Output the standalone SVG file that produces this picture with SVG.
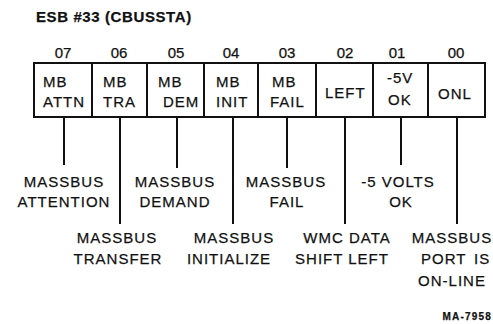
<svg xmlns="http://www.w3.org/2000/svg" width="493" height="324" viewBox="0 0 493 324">
<style>
text{font-family:"Liberation Sans",Arial,sans-serif;fill:#111;stroke:#111;stroke-width:0.25}
.t{font-size:15px;font-weight:bold;letter-spacing:0.6px}
.n{font-size:15px;text-anchor:middle}
.c{font-size:15px;letter-spacing:1px}
.l{font-size:15px;letter-spacing:1px;text-anchor:middle}
.id{font-size:10px;font-weight:bold;letter-spacing:1.2px;text-anchor:end}
.ln{stroke:#111;stroke-width:2;fill:none}
</style>
<rect width="493" height="324" fill="#fff"/>
<g id="title"><text class="t" x="36" y="21.5">ESB #33 (CBUSSTA)</text></g>
<g id="register">
<rect class="ln" x="34" y="63" width="451" height="54" stroke-width="2.5"/>
<path class="ln" d="M92 63V117M147 63V117M204 63V117M258 63V117M316 63V117M373 63V117M428 63V117"/>
</g>
<g id="bit07"><text class="n" x="63" y="58">07</text><text class="c" x="43" y="86.5">MB</text><text class="c" x="43" y="106.5">ATTN</text></g>
<g id="bit06"><text class="n" x="119" y="58">06</text><text class="c" x="103" y="86.5">MB</text><text class="c" x="103" y="106.5">TRA</text></g>
<g id="bit05"><text class="n" x="176" y="58">05</text><text class="c" x="158" y="86.5">MB</text><text class="c" x="163" y="106.5">DEM</text></g>
<g id="bit04"><text class="n" x="231" y="58">04</text><text class="c" x="216" y="86.5">MB</text><text class="c" x="216" y="106.5">INIT</text></g>
<g id="bit03"><text class="n" x="287" y="58">03</text><text class="c" x="272" y="86.5">MB</text><text class="c" x="270" y="106.5">FAIL</text></g>
<g id="bit02"><text class="n" x="345" y="58">02</text><text class="c" x="325" y="98">LEFT</text></g>
<g id="bit01"><text class="n" x="397" y="58">01</text><text class="c" x="387" y="83">-5V</text><text class="c" x="388" y="104.5">OK</text></g>
<g id="bit00"><text class="n" x="456" y="58">00</text><text class="c" x="438" y="99">ONL</text></g>
<g id="connectors">
<path class="ln" d="M64 117V165M120 117V224M177 117V168M233 117V224M287 117V168M345 117V224M401 117V165M457 117V224"/>
</g>
<g id="lbl07"><text class="l" x="64" y="187">MASSBUS</text><text class="l" x="64" y="207">ATTENTION</text></g>
<g id="lbl05"><text class="l" x="175" y="187">MASSBUS</text><text class="l" x="175" y="207">DEMAND</text></g>
<g id="lbl03"><text class="l" x="286" y="187">MASSBUS</text><text class="l" x="287" y="207">FAIL</text></g>
<g id="lbl01"><text class="l" x="398" y="187">-5 VOLTS</text><text class="l" x="401" y="207">OK</text></g>
<g id="lbl06"><text class="l" x="117" y="243">MASSBUS</text><text class="l" x="118" y="264">TRANSFER</text></g>
<g id="lbl04"><text class="l" x="234" y="243">MASSBUS</text><text class="l" x="229" y="264">INITIALIZE</text></g>
<g id="lbl02"><text class="l" x="347" y="243">WMC DATA</text><text class="l" x="342" y="264">SHIFT LEFT</text></g>
<g id="lbl00"><text class="l" x="452" y="243">MASSBUS</text><text class="c" y="264"><tspan x="421">PORT </tspan><tspan x="474">IS</tspan></text><text class="l" x="452" y="285.5">ON-LINE</text></g>
<g id="figid"><text class="id" x="492" y="319.5">MA-7958</text></g>
</svg>
